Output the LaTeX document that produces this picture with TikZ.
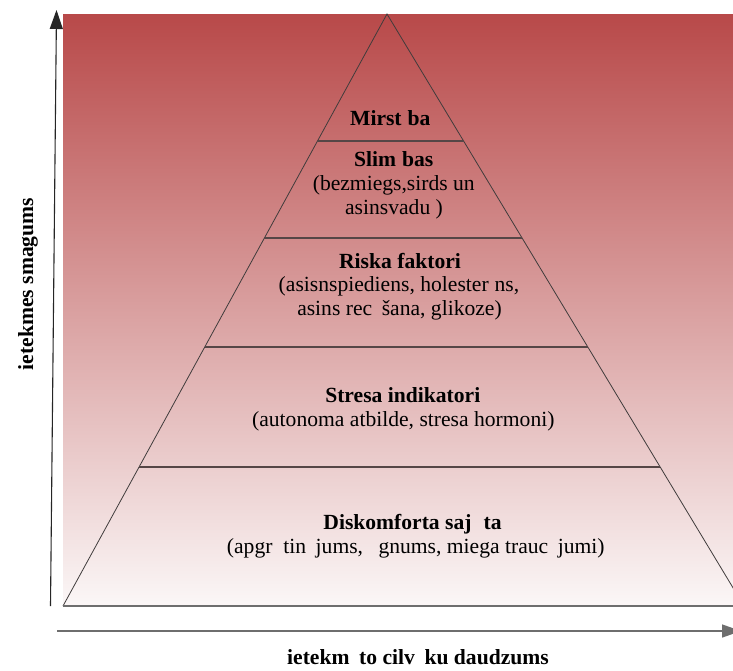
\documentclass[tikz,border=0pt]{standalone}
\usepackage{fontspec}
\setmainfont{Liberation Serif}
\usetikzlibrary{arrows.meta,calc}
\definecolor{bgtop}{RGB}{184,73,73}
\definecolor{bgbot}{RGB}{251,247,247}
\definecolor{sidecol}{RGB}{64,60,60}
\definecolor{divcol}{RGB}{85,70,70}
\definecolor{axcol}{RGB}{110,110,110}
\tikzset{
  txt/.style={anchor=base, inner sep=0pt, text=black, font=\fontsize{21.6}{24}\selectfont},
  ttl/.style={txt, font=\fontsize{21.6}{24}\selectfont\bfseries},
  sideline/.style={draw=sidecol, line width=0.8pt},
  divline/.style={draw=divcol, line width=1.2pt},
  baseedge/.style={draw=axcol, line width=1.4pt},
  axisarrow/.style={line width=1.1pt, -{Triangle[width=13pt,length=19pt]}},
}
\begin{document}
\begin{tikzpicture}[x=1pt,y=-1pt]
\useasboundingbox (0,0) rectangle (733,670);
\begin{scope}
\clip (0,0) rectangle (733,670);
% background gradient
\shade[top color=bgtop, bottom color=bgbot] (63,14) rectangle (733,606);
% pyramid corners
\coordinate (apex) at (387,14);
\coordinate (bl) at (63,606);
\coordinate (br) at (744,606);
% divider end points
\foreach \yy/\nm in {141/a,238/b,347/c,467/d}{
  \coordinate (L\nm) at ($(apex)!{(\yy-14)/592}!(bl)$);
  \coordinate (R\nm) at ($(apex)!{(\yy-14)/592}!(br)$);
}
\draw[sideline] (bl) -- (apex) -- (br);
\foreach \nm in {a,b,c,d}{ \draw[divline] (L\nm) -- (R\nm); }
\draw[baseedge] (bl) -- (br);
% axes
\coordinate (vs) at (50.5,606);
\coordinate (ve) at (56.5,10);
\coordinate (hs) at (57,631);
\coordinate (he) at (741,631);
\draw[axisarrow, draw=black!85] (vs) -- (ve);
\draw[axisarrow, draw=axcol, line width=1.4pt] (hs) -- (he);
\end{scope}
% texts
\node[ttl] (mir) at (390.3,125.7) {Mirst\phantom{ī}ba};
\node[ttl] (sli) at (393.7,166.7) {Slim\phantom{ī}bas};
\node[txt] (sli1) at (393.8,190.7) {(bezmiegs,sirds un};
\node[txt] (sli2) at (394,214.3) {asinsvadu )};
\node[ttl] (ris) at (400,268) {Riska faktori};
\node[txt] (ris1) at (399,291.7) {(asisnspiediens, holester\phantom{ī}ns,};
\node[txt] (ris2) at (399.5,315) {asins rec\phantom{ē}šana, glikoze)};
\node[ttl] (str) at (402.8,402.7) {Stresa indikatori};
\node[txt] (str1) at (403.3,426.7) {(autonoma atbilde, stresa hormoni)};
\node[ttl] (dis) at (412.5,529.5) {Diskomforta saj\phantom{ū}ta};
\node[txt] (dis1) at (415.8,553) {(apgr\phantom{ū}tin\phantom{ā}jums, \hspace{4pt}\phantom{ī}gnums, miega trauc\phantom{ē}jumi)};
\node[ttl] (xlab) at (418,664.8) {ietekm\phantom{ē}to cilv\phantom{ē}ku daudzums};
\node[ttl, rotate=90] (ylab) at (33,284) {ietekmes smagums};
\end{tikzpicture}
\end{document}
